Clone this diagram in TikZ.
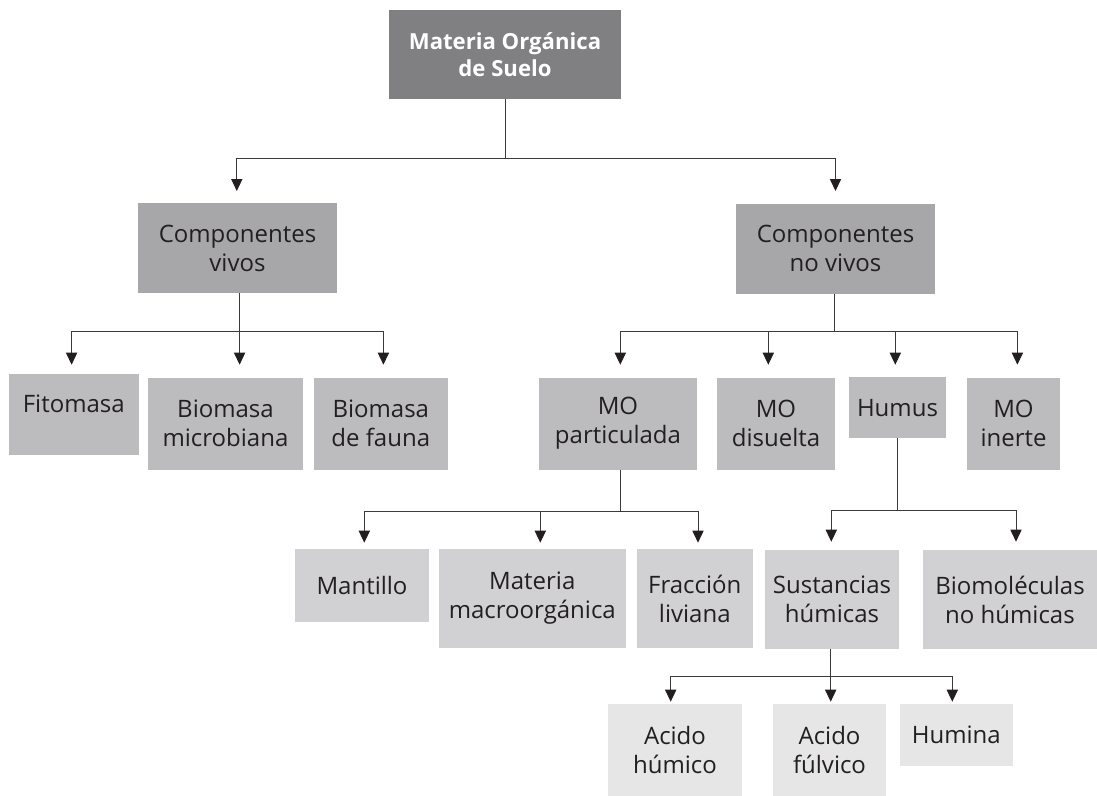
\documentclass[tikz,border=0pt]{standalone}
\usepackage{fontspec}
\setmainfont{Open Sans}
\usetikzlibrary{arrows.meta,calc}
\definecolor{c0}{HTML}{808083}
\definecolor{c1}{HTML}{A7A7AA}
\definecolor{c2}{HTML}{BCBCBF}
\definecolor{c3}{HTML}{D1D1D3}
\definecolor{c4}{HTML}{E6E6E7}
\definecolor{txtc}{HTML}{231F20}
\definecolor{wirec}{HTML}{3A3A3A}
\tikzset{
  sz/.style 2 args={minimum width=#1*0.75pt, minimum height=#2*0.75pt},
  boxbase/.style={inner sep=0pt, align=center, text=txtc, font=\fontsize{18}{21.75}\selectfont},
  lv0/.style={boxbase, fill=c0, text=white, font=\fontsize{16.6}{20.5}\selectfont\bfseries},
  lv1/.style={boxbase, fill=c1},
  lv2/.style={boxbase, fill=c2},
  lv3/.style={boxbase, fill=c3},
  lv4/.style={boxbase, fill=c4},
  wire/.style={draw=wirec, line width=0.75pt},
  arr/.style={wire, -{Triangle[length=9pt,width=8.4pt,fill=txtc,color=txtc]}},
}
\begin{document}
\begin{tikzpicture}[x=0.75pt, y=-0.75pt]
\useasboundingbox (0,0) rectangle (1097,796);
% boxes
\node[lv0, sz={232}{89}] (root) at (505,54.5) {Materia Orgánica\\de Suelo};
\node[lv1, sz={199}{90}] (vivos) at (237.5,248) {Componentes\\vivos};
\node[lv1, sz={199}{90}] (novivos) at (835.5,248.5) {Componentes\\no vivos};
\node[lv2, sz={130}{81}] (fito) at (73.8,414.5) {Fitomasa\\[-12pt]\strut};
\node[lv2, sz={155}{92}] (biomic) at (225.5,423.5) {Biomasa\\microbiana};
\node[lv2, sz={134.4}{92}] (biofau) at (380.8,423.5) {Biomasa\\de fauna};
\node[lv2, sz={158}{92}] (mopart) at (618,423.5) {MO\\particulada};
\node[lv2, sz={118}{92}] (modis) at (776,423.5) {MO\\disuelta};
\node[lv2, sz={97}{61}] (humus) at (897.5,407.7) {Humus};
\node[lv2, sz={93}{92}] (moin) at (1013.5,423.5) {MO\\inerte};
\node[lv3, sz={134}{73}] (mant) at (362,585.5) {Mantillo};
\node[lv3, sz={186.7}{99}] (macro) at (532.3,598.5) {Materia\\macroorgánica};
\node[lv3, sz={115.7}{99}] (frac) at (694.8,598.5) {Fracción\\liviana};
\node[lv3, sz={134}{99}] (sust) at (832,599.5) {Sustancias\\húmicas};
\node[lv3, sz={174}{99}] (biomol) at (1010,599.5) {Biomoléculas\\no húmicas};
\node[lv4, sz={134}{92}] (acidh) at (675,750) {Acido\\húmico};
\node[lv4, sz={113}{92}] (acidf) at (829.5,750) {Acido\\fúlvico};
\node[lv4, sz={112.7}{62}] (humina) at (956.3,735) {Humina};
% bus and tip levels
\coordinate (y0) at (0,158);   \coordinate (t0) at (0,191);
\coordinate (y1) at (0,331.4); \coordinate (t1) at (0,364.7);
\coordinate (y3) at (0,511);   \coordinate (t3) at (0,542.7);
\coordinate (y4) at (0,510.7); \coordinate (t4) at (0,541.7);
\coordinate (y5) at (0,676.7); \coordinate (t5) at (0,701.7);
% root
\draw[wire] (root.south) -- (root.south |- y0) coordinate (b0);
\draw[arr] (b0) -| ($(vivos.north |- t0)+(-0.7,0)$);
\draw[arr] (b0) -| (novivos.north |- t0);
% vivos
\coordinate (s1) at ($(vivos.south)+(2.1,0)$);
\draw[wire] (s1) -- (s1 |- y1) coordinate (b1);
\draw[arr] (b1) -| ($(fito.north |- t1)+(-2.2,0)$);
\draw[arr] (b1) -| ($(biomic.north |- t1)+(14.1,0)$);
\draw[arr] (b1) -| ($(biofau.north |- t1)+(2.6,0)$);
% no vivos
\coordinate (s2) at ($(novivos.south)+(-0.9,0)$);
\draw[wire] (s2) -- (s2 |- y1) coordinate (b2);
\draw[arr] (b2) -| ($(mopart.north |- t1)+(2.3,0)$);
\draw[arr] (b2) -| ($(modis.north |- t1)+(-7.7,0)$);
\draw[arr] (b2) -| ($(humus.north |- t1)+(-2.2,0)$);
\draw[arr] (b2) -| ($(moin.north |- t1)+(3.9,0)$);
% MO particulada
\coordinate (s3) at ($(mopart.south)+(2.3,0)$);
\draw[wire] (s3) -- (s3 |- y3) coordinate (b3);
\draw[arr] (b3) -| ($(mant.north |- t3)+(2.3,0)$);
\draw[arr] (b3) -| ($(macro.north |- t3)+(8,0)$);
\draw[arr] (b3) -| ($(frac.north |- t3)+(3.2,0)$);
% Humus
\coordinate (s4) at ($(humus.south)+(-0.5,0)$);
\draw[wire] (s4) -- (s4 |- y4) coordinate (b4);
\draw[arr] (b4) -| ($(sust.north |- t4)+(-0.7,0)$);
\draw[arr] (b4) -| ($(biomol.north |- t4)+(6,0)$);
% Sustancias humicas
\coordinate (s5) at ($(sust.south)+(-1.3,0)$);
\draw[wire] (s5) -- (s5 |- y5) coordinate (b5);
\draw[arr] (b5) -| ($(acidh.north |- t5)+(-4.3,0)$);
\draw[arr] (b5) -| ($(acidf.north |- t5)+(1.2,0)$);
\draw[arr] (b5) -| ($(humina.north |- t5)+(-4,0)$);
\end{tikzpicture}
\end{document}
